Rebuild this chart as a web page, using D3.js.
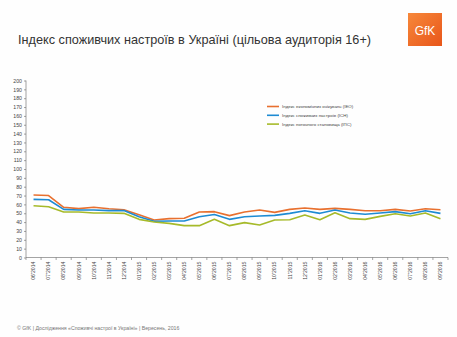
<!DOCTYPE html>
<html><head><meta charset="utf-8">
<script src="https://cdn.jsdelivr.net/npm/d3@7"></script>
<style>body{margin:0;background:#fff}svg{display:block;font-family:"Liberation Sans",Arial,sans-serif}</style>
</head><body><svg id="c" width="457" height="337"></svg>
<script>
const categories = ["06'2014","07'2014","08'2014","09'2014","10'2014","11'2014","12'2014","01'2015","02'2015","03'2015","04'2015","05'2015","06'2015","07'2015","08'2015","09'2015","10'2015","11'2015","12'2015","01'2016","02'2016","03'2016","04'2016","05'2016","06'2016","07'2016","08'2016","09'2016"];
const ieo = [70.6,70.0,56.7,55.2,56.7,55.0,54.0,48.4,42.4,43.9,44.3,51.4,51.8,47.3,51.4,53.7,51.0,54.4,55.9,54.4,55.5,54.4,52.9,52.9,54.4,52.5,55.0,54.0];
const ich = [65.7,65.3,54.4,53.7,53.7,53.0,53.0,46.1,40.9,41.2,41.2,46.1,48.6,43.1,46.1,46.9,47.6,49.9,52.9,49.9,53.7,50.3,48.8,50.3,51.8,49.5,52.9,49.9];
const ips = [58.5,57.4,51.4,51.4,50.3,50.3,49.9,43.1,40.1,38.6,36.0,36.0,43.1,36.0,39.4,36.7,42.4,42.7,48.0,42.7,50.6,43.9,43.1,46.5,49.5,46.9,50.3,43.9];
const seriesNames = ["Індекс економічних очікувань (ІЕО)","Індекс споживчих настроїв (ІСН)","Індекс поточного становища (ІПС)"];
const seriesColors = ["#E8702F","#1E8BD3","#A6BA2A"];
const yTicks = d3.range(0,201,10);

const svg = d3.select("#c");
svg.append("rect").attr("width",457).attr("height",337).attr("fill","#fefefe");

// title
svg.append("text").attr("x",18).attr("y",44).attr("font-size",12.7).attr("fill","#333")
  .text("Індекс споживчих настроїв в Україні (цільова аудиторія 16+)");

// logo
const lg = svg.append("defs").append("linearGradient").attr("id","lg").attr("x1",0).attr("y1",0).attr("x2",1).attr("y2",1);
lg.append("stop").attr("offset",0).attr("stop-color","#F7883A");
lg.append("stop").attr("offset",1).attr("stop-color","#E8561A");
svg.append("rect").attr("x",408).attr("y",13).attr("width",34).attr("height",33).attr("fill","url(#lg)");
svg.append("text").attr("x",425).attr("y",35).attr("text-anchor","middle").attr("font-size",12).attr("fill","#fff").text("GfK");

const x = d3.scaleBand().domain(categories).range([26,448]);
const y = d3.scaleLinear().domain([0,200]).range([257.5,80.5]);

// y axis
const ya = svg.append("g").attr("transform","translate(26,0)")
  .call(d3.axisLeft(y).tickValues(yTicks).tickSize(2).tickPadding(2));
ya.selectAll("text").attr("font-size",5.2).attr("fill","#444").attr("font-family","Liberation Sans, Arial, sans-serif");
ya.selectAll("line,path").attr("stroke","#666").attr("stroke-width",0.6);
ya.select("path").attr("d","M0,80.5V257.5");

// x axis
const xa = svg.append("g").attr("transform","translate(0,257.5)");
xa.append("line").attr("x1",26).attr("x2",448).attr("stroke","#666").attr("stroke-width",0.6);
const edges = categories.map(c=>x(c)).concat([x.range()[1]]);
xa.selectAll("line.t").data(edges).join("line").attr("class","t")
  .attr("x1",d=>d).attr("x2",d=>d).attr("y1",0).attr("y2",2.5).attr("stroke","#666").attr("stroke-width",0.6);
xa.selectAll("text").data(categories).join("text")
  .attr("transform",d=>`translate(${x(d)+x.bandwidth()/2+1.8},4) rotate(-90)`)
  .attr("text-anchor","end").attr("font-size",5.2).attr("fill","#444").text(d=>d);

// lines
const line = d3.line().x((d,i)=>x(categories[i])+x.bandwidth()/2).y(d=>y(d));
[ieo,ich,ips].forEach((s,k)=>{
  svg.append("path").datum(s).attr("d",line).attr("fill","none")
    .attr("stroke",seriesColors[k]).attr("stroke-width",1.6).attr("stroke-linejoin","round");
});

// legend
seriesNames.forEach((n,k)=>{
  const yy = 106.5 + k*8.8;
  svg.append("line").attr("x1",267).attr("x2",279).attr("y1",yy).attr("y2",yy)
    .attr("stroke",seriesColors[k]).attr("stroke-width",1.6);
  svg.append("text").attr("x",282).attr("y",yy+1.5).attr("font-size",4.4).attr("fill","#444").text(n);
});

// footer
svg.append("text").attr("x",17).attr("y",330).attr("font-size",5.2).attr("fill","#777")
  .text("© GfK | Дослідження «Споживчі настрої в Україні» | Вересень, 2016");
</script></body></html>
